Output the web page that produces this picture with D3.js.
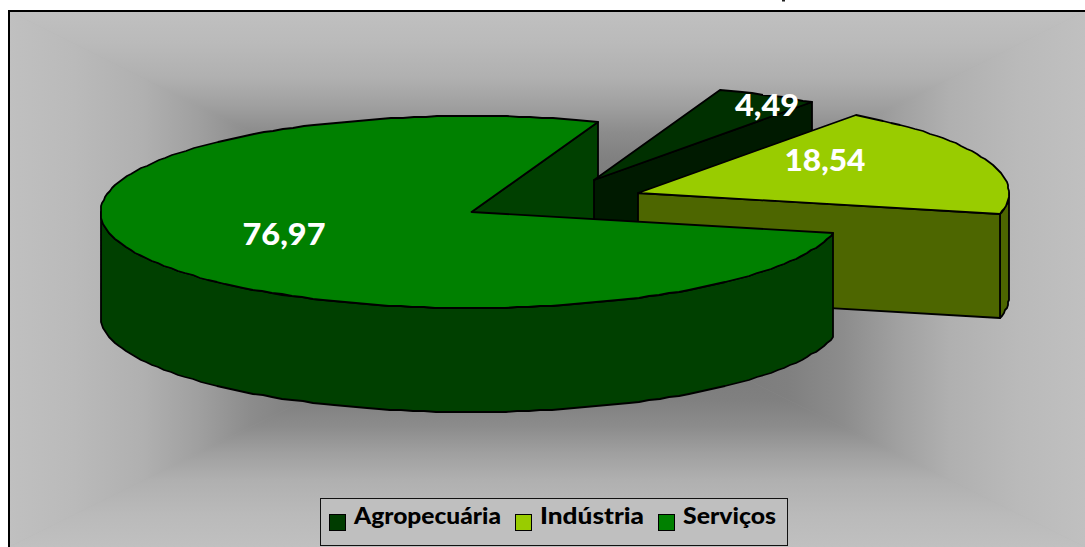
<!DOCTYPE html>
<html><head><meta charset="utf-8">
<script src="https://cdn.jsdelivr.net/npm/d3@7/dist/d3.min.js"></script>
<style>html,body{margin:0;padding:0;background:#fff;overflow:hidden}svg{display:block}
text{font-family:"Comic Sans MS","Lato","Open Sans",sans-serif;font-weight:900}</style>
</head><body><script>
const categories = ["Agropecuária", "Indústria", "Serviços"];
const values = [4.49, 18.54, 76.97];
const topColors = ["#003000", "#99cc00", "#008000"];
const sideColors = ["#001a00", "#4d6600", "#004000"];
const swatchColors = ["#003c00", "#99cc00", "#008000"];

const W = 1085, H = 547;
const rx = 371, ry = 96, depth = 104;
const startDeg = 19.9;
const centres = [[594, 180], [638, 193], [471.5, 212]];
const valueLabelPos = [[767, 116], [825, 171], [284, 245]];
const valueLabelLen = [64, 81, 83];
const legendPos = [
  {sw: 329, tx: 354, len: 147}, {sw: 515, tx: 540, len: 104}, {sw: 658, tx: 683, len: 93}
];

const svg = d3.select("body").append("svg").attr("width", W).attr("height", H);
const defs = svg.append("defs");

// Rectangular "from centre" background gradient
const fx = 9, fy = 11, fr = 1085, fb = 547, cx = 546, cy = 280;
const gStops = [[0, "#6e6e6e"], [0.45, "#808080"], [0.55, "#8c8c8c"], [0.65, "#a0a0a0"], [0.75, "#b0b0b0"], [0.88, "#bababa"], [1, "#c0c0c0"]];
const tris = [
  {id: "gT", pts: [[fx, fy], [fr, fy]], end: [cx, fy]},
  {id: "gB", pts: [[fr, fb], [fx, fb]], end: [cx, fb]},
  {id: "gL", pts: [[fx, fb], [fx, fy]], end: [fx, cy]},
  {id: "gR", pts: [[fr, fy], [fr, fb]], end: [fr, cy]}
];
tris.forEach(t => {
  const g = defs.append("linearGradient").attr("id", t.id).attr("gradientUnits", "userSpaceOnUse")
    .attr("x1", cx).attr("y1", cy).attr("x2", t.end[0]).attr("y2", t.end[1]);
  gStops.forEach(s => g.append("stop").attr("offset", s[0]).attr("stop-color", s[1]));
});
svg.append("rect").attr("x", fx).attr("y", fy).attr("width", fr - fx).attr("height", fb - fy).attr("fill", "#a8a8a8");
tris.forEach(t => svg.append("polygon")
  .attr("points", [[cx, cy], ...t.pts].join(" ")).attr("fill", `url(#${t.id})`)
  .attr("stroke", `url(#${t.id})`).attr("stroke-width", 0.6));
svg.append("path").attr("d", `M${fx},${H}V${fy}H${W}`).attr("fill", "none").attr("stroke", "#000").attr("stroke-width", 2);
// Remnant of the cropped title above the frame
svg.append("rect").attr("x", 782).attr("y", 0).attr("width", 3).attr("height", 1.5).attr("fill", "#222");

// Pie geometry
const pie = d3.pie().sort(null).startAngle(startDeg * Math.PI / 180).endAngle((startDeg + 360) * Math.PI / 180);
const arcs = pie(values);
const line = d3.line();
const proj = (c, a, dz = 0) => [Math.round(c[0] + rx * Math.sin(a)), Math.round(c[1] - ry * Math.cos(a) + dz)];
const sample = (c, a0, a1, dz = 0) => {
  const n = Math.max(2, Math.ceil(Math.abs(a1 - a0) / (1.8 * Math.PI / 180)));
  return d3.range(n + 1).map(i => proj(c, a0 + (a1 - a0) * i / n, dz));
};
const stroke = sel => sel.attr("stroke", "#000").attr("stroke-width", 1.8).attr("stroke-linejoin", "round");
const g = svg.append("g");
const poly = (pts, fill) => g.append("path").attr("d", line(pts) + "Z").attr("fill", fill).call(stroke);
const down = (p, dz = depth) => [p[0], p[1] + dz];

const outerWall = (i, a0, a1) => {
  const top = sample(centres[i], a0, a1);
  poly([...top, ...sample(centres[i], a1, a0, depth)], sideColors[i]);
};
const topFace = i => poly([centres[i], ...sample(centres[i], arcs[i].startAngle, arcs[i].endAngle)], topColors[i]);
const cutWall = (i, a) => {
  const c = centres[i], e = proj(c, a);
  poly([c, e, down(e), down(c)], sideColors[i]);
};

// Painter's order: back to front
cutWall(2, arcs[2].endAngle);
cutWall(0, arcs[0].endAngle);
topFace(0);
outerWall(1, Math.PI / 2, arcs[1].endAngle);
cutWall(1, arcs[1].endAngle);
topFace(1);
outerWall(2, arcs[2].startAngle, 1.5 * Math.PI);
topFace(2);

// Value labels
svg.selectAll("text.val").data(values).join("text").attr("class", "val")
  .attr("x", (d, i) => valueLabelPos[i][0]).attr("y", (d, i) => valueLabelPos[i][1])
  .attr("text-anchor", "middle").attr("font-size", 31).attr("fill", "#fff")
  .attr("textLength", (d, i) => valueLabelLen[i]).attr("lengthAdjust", "spacingAndGlyphs")
  .text(d => d3.format(".2f")(d).replace(".", ","));

// Legend
svg.append("rect").attr("x", 320.5).attr("y", 498.5).attr("width", 467).attr("height", 47)
  .attr("fill", "#bfbfbf").attr("stroke", "#111").attr("stroke-width", 1);
const leg = svg.selectAll("g.leg").data(categories).join("g").attr("class", "leg");
leg.append("rect").attr("x", (d, i) => legendPos[i].sw + .5).attr("y", 514.5).attr("width", 16).attr("height", 16)
  .attr("fill", (d, i) => swatchColors[i]).attr("stroke", "#000").attr("stroke-width", 1);
leg.append("text").attr("x", (d, i) => legendPos[i].tx).attr("y", 524).attr("font-size", 22).attr("fill", "#000")
  .attr("textLength", (d, i) => legendPos[i].len).attr("lengthAdjust", "spacingAndGlyphs").text(d => d);
</script></body></html>
